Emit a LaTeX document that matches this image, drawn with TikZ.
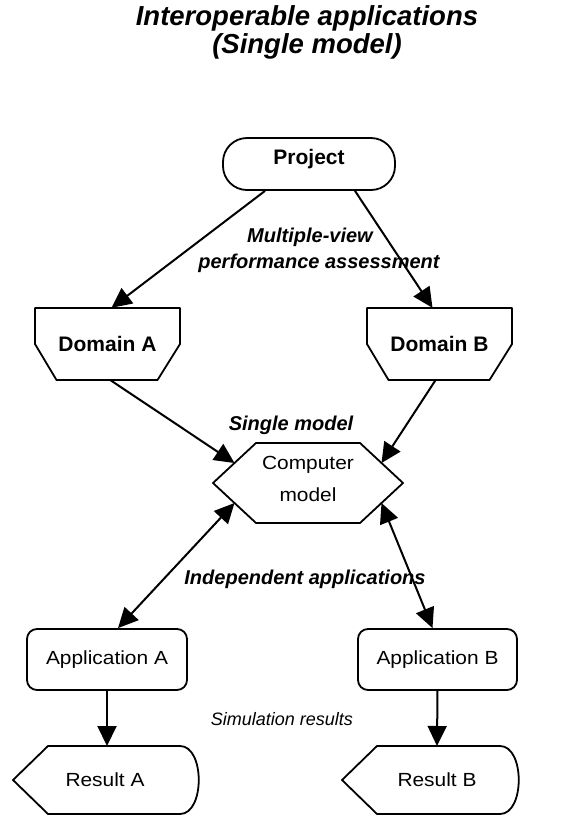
\documentclass[tikz,border=0pt]{standalone}
\usepackage{fontspec}
\setmainfont{Liberation Sans}
\newfontfamily\widesans{Liberation Sans}[FakeStretch=1.1]
\usetikzlibrary{arrows.meta,calc}

\begin{document}
\begin{tikzpicture}[x=1pt,y=-1pt,
  outline/.style={line width=1.8pt, line join=round},
  tip/.tip={Triangle[length=20pt,width=19pt]},
  conn/.style={line width=2pt, -tip},
  biconn/.style={line width=2pt, tip-tip},
  boldtext/.style={font=\fontsize{21}{25}\selectfont\bfseries},
  plaintext/.style={font=\fontsize{19}{22}\selectfont\widesans},
  holder/.style={inner sep=0pt, draw=none},
  edgelabel/.style={anchor=base, font=\fontsize{20}{23}\selectfont\bfseries\itshape},
  plainedge/.style={anchor=base, font=\fontsize{18}{21}\selectfont\itshape},
  heading/.style={anchor=base, font=\fontsize{27.5}{30}\selectfont\bfseries\itshape}
]
\useasboundingbox (0,0) rectangle (580,815);

% heading
\node[heading] (t1) at (307,25) {Interoperable applications};
\node[heading] (t2) at (307,53) {(Single model)};

% project
\node[outline, draw, rounded corners=24pt, minimum width=172pt, minimum height=52pt,
      text depth=14pt, boldtext] (proj) at (309,164) {Project};

% domains
\node[holder, minimum width=145pt, minimum height=72pt, boldtext] (dA) at (107.5,344) {Domain A};
\node[holder, minimum width=145pt, minimum height=72pt, boldtext] (dB) at (439.5,344) {Domain B};
\foreach \d in {dA,dB}{
  \draw[outline] ([shift={(-72.5,-36)}]\d.center) -- ([shift={(72.5,-36)}]\d.center)
    -- ([shift={(72.5,0)}]\d.center) -- ([shift={(50,36)}]\d.center)
    -- ([shift={(-51,36)}]\d.center) -- ([shift={(-72.5,0)}]\d.center) -- cycle;
}

% computer model (hexagon)
\node[holder, minimum width=190pt, minimum height=80pt, align=center, text depth=9pt,
      font=\fontsize{19}{32}\selectfont\widesans] (cm) at (308,483) {Computer\\model};
\draw[outline] ([shift={(-95,0)}]cm.center) -- ([shift={(-52,-40)}]cm.center)
  -- ([shift={(52,-40)}]cm.center) -- ([shift={(95,0)}]cm.center)
  -- ([shift={(52,40)}]cm.center) -- ([shift={(-52,40)}]cm.center) -- cycle;

% applications
\node[outline, draw, rounded corners=10pt, minimum width=160pt, minimum height=61pt, plaintext] (apA) at (107,659.5) {Application A};
\node[outline, draw, rounded corners=10pt, minimum width=159pt, minimum height=61pt, plaintext] (apB) at (437.5,659.5) {Application B};

% results
\node[holder, minimum width=150pt, minimum height=68pt, plaintext] (rA) at (105,780) {Result A};
\node[holder, minimum width=150pt, minimum height=68pt, plaintext] (rB) at (437,780) {Result B};
\draw[outline] ([shift={(-92,0)}]rA.center) -- ([shift={(-57,-34)}]rA.center)
  -- ([shift={(75,-34)}]rA.center)
  .. controls ([shift={(100,-34)}]rA.center) and ([shift={(100,34)}]rA.center) .. ([shift={(75,34)}]rA.center)
  -- ([shift={(-57,34)}]rA.center) -- cycle;
\draw[outline] ([shift={(-95,0)}]rB.center) -- ([shift={(-60,-34)}]rB.center)
  -- ([shift={(63,-34)}]rB.center)
  .. controls ([shift={(88,-34)}]rB.center) and ([shift={(88,34)}]rB.center) .. ([shift={(63,34)}]rB.center)
  -- ([shift={(-60,34)}]rB.center) -- cycle;

% connectors
\draw[conn] ([shift={(-44,0)}]proj.south) -- ([shift={(4,0)}]dA.north);
\draw[conn] ([shift={(46,0)}]proj.south) -- ([shift={(-7,0)}]dB.north);
\draw[conn] ([shift={(3,0)}]dA.south) -- ([shift={(-73.5,-20)}]cm.center);
\draw[conn] ([shift={(-4,0)}]dB.south) -- ([shift={(73.5,-20)}]cm.center);
\draw[biconn] ([shift={(-73.5,20)}]cm.center) -- ([shift={(11,0)}]apA.north);
\draw[biconn] ([shift={(73.5,20)}]cm.center) -- ([shift={(-5,0)}]apB.north);
\draw[conn] (apA.south) -- ([shift={(2,-34)}]rA.center);
\draw[conn] (apB.south) -- ([shift={(0,-34)}]rB.center);

% labels
\node[edgelabel] (l1) at (310,242) {Multiple-view};
\node[edgelabel] (l2) at (319,268) {performance assessment};
\node[edgelabel] (l3) at (291,430) {Single model};
\node[edgelabel] (l4) at (305,584) {Independent applications};
\node[plainedge] (l5) at (282,725) {Simulation results};
\end{tikzpicture}
\end{document}
